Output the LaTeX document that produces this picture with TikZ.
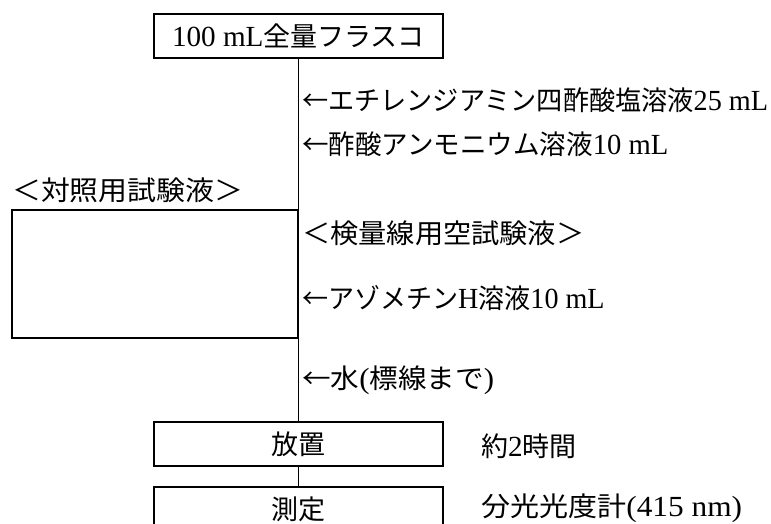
\documentclass[tikz,border=0pt]{standalone}
\usepackage{fontspec}
\setmainfont{Liberation Serif}[Scale=1.08]
\newfontfamily\jp{Noto Sans CJK JP}
\newcommand\larr{{\jp ←}}
\begin{document}
\begin{tikzpicture}[x=1pt,y=-1pt,
  box/.style={draw, line width=1.9pt, rectangle, inner sep=0pt, minimum width=289pt, minimum height=44pt, font=\fontsize{27}{30}\selectfont},
  lbl/.style={anchor=west, inner sep=0pt, font=\fontsize{27}{30}\selectfont},
  conn/.style={line width=1.9pt}]
\useasboundingbox[fill=white] (0,0) rectangle (771,524);
\node[box] (flask) at (298.5,36) {100 mL{\jp 全量フラスコ}};
\node[box] (hochi) at (298.5,444) {{\jp 放置}};
\node[box] (sokutei) at (298.5,509) {{\jp 測定}};
\node[draw, line width=1.9pt, rectangle, inner sep=0pt, minimum width=286pt, minimum height=128pt] (ctrlbox) at (155,274) {};
\draw[conn] (flask.south) -- (hochi.north);
\draw[conn] (hochi.south) -- (sokutei.north);
\node[lbl, xscale=1.07] (ctrl) at (12,190) {{\jp ＜対照用試験液＞}};
\node[lbl, xscale=0.968] (edta) at (302,100) {\larr{\jp エチレンジアミン四酢酸塩溶液}25 mL};
\node[lbl, xscale=0.982] (ammon) at (302,144) {\larr{\jp 酢酸アンモニウム溶液}10 mL};
\node[lbl, xscale=1.045] (blank) at (302,233) {{\jp ＜検量線用空試験液＞}};
\node[lbl, xscale=0.963] (azo) at (302,298) {\larr{\jp アゾメチン}H{\jp 溶液}10 mL};
\node[lbl, xscale=1.058] (water) at (302,380) {\larr{\jp 水}({\jp 標線まで})};
\node[lbl] (time) at (481,446) {{\jp 約}2{\jp 時間}};
\node[lbl, xscale=1.075] (spec) at (481,508) {{\jp 分光光度計}(415 nm)};
\end{tikzpicture}
\end{document}
